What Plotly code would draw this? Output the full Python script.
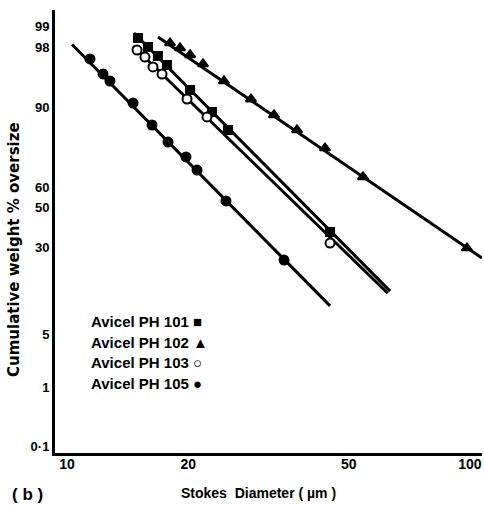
import plotly.graph_objects as go
from statistics import NormalDist

ND = NormalDist()

def probit(vals):
    return [ND.inv_cdf(v / 100.0) for v in vals]

# ---- data (Stokes diameter in um, cumulative weight % oversize) ----
ph101_x = [15.00, 15.88, 16.81, 17.70, 20.20, 22.89, 25.08, 44.95]
ph101_y = [98.54, 98.05, 97.43, 96.65, 93.45, 88.99, 83.98, 37.3]
ph101_fit_x = [14.66, 63.34]
ph101_fit_y = [98.76, 13.9]

ph102_x = [18.01, 19.07, 20.20, 21.75, 24.52, 28.61, 32.63, 37.22, 43.68, 54.27, 98.3]
ph102_y = [98.28, 97.99, 97.51, 96.75, 94.80, 91.8, 88.24, 83.98, 77.67, 65.1, 29.8]
ph102_fit_x = [16.81, 107.1]
ph102_fit_y = [98.59, 25.5]

ph103_x = [14.92, 15.61, 16.34, 17.21, 19.85, 22.25, 44.95]
ph103_y = [97.86, 97.35, 96.46, 95.69, 91.83, 87.73, 32.1]
ph103_fit_x = [14.58, 62.5]
ph103_fit_y = [98.11, 13.3]

ph105_x = [11.40, 12.28, 12.78, 14.58, 16.25, 17.81, 19.73, 21.02, 24.80, 34.56]
ph105_y = [97.2, 95.7, 94.8, 91.0, 85.5, 79.9, 74.1, 68.3, 53.1, 24.7]
ph105_fit_x = [10.29, 44.95]
ph105_fit_y = [98.2, 10.1]

x_ticks = [10, 20, 50, 100]
y_tick_vals = [99, 98, 90, 60, 50, 30, 5, 1, 0.1]
y_tick_text = ["99", "98", "90", "60", "50", "30", "5", "1", "0·1"]
legend_labels = ["Avicel PH 101 ■", "Avicel PH 102 ▲", "Avicel PH 103 ○", "Avicel PH 105 ●"]

BLACK = "black"
FONT = "Liberation Sans, Arial, sans-serif"
FONT_WIDE = "DejaVu Sans, Liberation Sans, sans-serif"

fig = go.Figure()

def add_series(fx, fy, px_, py_, symbol, fill, size):
    fig.add_trace(go.Scatter(x=fx, y=probit(fy), mode="lines",
                             line=dict(color=BLACK, width=3), showlegend=False,
                             hoverinfo="skip"))
    fig.add_trace(go.Scatter(x=px_, y=probit(py_), mode="markers",
                             marker=dict(symbol=symbol, size=size, color=fill,
                                         line=dict(color=BLACK, width=2)),
                             showlegend=False))

add_series(ph105_fit_x, ph105_fit_y, ph105_x, ph105_y, "circle", BLACK, 9)
add_series(ph102_fit_x, ph102_fit_y, ph102_x, ph102_y, "triangle-up", BLACK, 9)
add_series(ph101_fit_x, ph101_fit_y, ph101_x, ph101_y, "square", BLACK, 8)
add_series(ph103_fit_x, ph103_fit_y, ph103_x, ph103_y, "circle", "white", 9)

# plot-area geometry in page pixels
L, R, T, B = 55, 482, 10, 453
W, H = R - L, B - T
def px(xp):
    return (xp - L) / W
def py(yp):
    return (B - yp) / H

annotations = []
leg_y = [321, 342, 362, 383]
for lab, yy in zip(legend_labels, leg_y):
    annotations.append(dict(text=lab, x=px(89), y=py(yy), xref="paper", yref="paper",
                            xanchor="left", yanchor="middle", showarrow=False,
                            font=dict(family=FONT, size=15, color=BLACK, weight="bold")))

annotations.append(dict(text="Cumulative weight % oversize", x=px(14), y=py(250),
                        xref="paper", yref="paper", textangle=-90, showarrow=False,
                        xanchor="center", yanchor="middle",
                        font=dict(family=FONT_WIDE, size=15, color=BLACK, weight="bold")))
annotations.append(dict(text="Stokes  Diameter ( µm )", x=px(258), y=py(493),
                        xref="paper", yref="paper", showarrow=False,
                        xanchor="center", yanchor="middle",
                        font=dict(family=FONT, size=14, color=BLACK, weight="bold")))
annotations.append(dict(text="( b )", x=px(27), y=py(494),
                        xref="paper", yref="paper", showarrow=False,
                        xanchor="center", yanchor="middle",
                        font=dict(family=FONT, size=17, color=BLACK, weight="bold")))

fig.update_layout(
    width=484, height=505,
    margin=dict(l=L, r=484 - R, t=T, b=505 - B),
    paper_bgcolor="white", plot_bgcolor="white",
    annotations=annotations,
    showlegend=False,
)
fig.update_xaxes(type="log", range=[0.9701, 2.0299], tickvals=x_ticks,
                 ticktext=[str(v) for v in x_ticks],
                 showgrid=False, zeroline=False, showline=True, linecolor=BLACK,
                 linewidth=3, ticks="", ticklabelstandoff=-4,
                 tickfont=dict(family=FONT, size=14, color=BLACK, weight="bold"))
fig.update_yaxes(range=[-3.174, 2.542], tickvals=probit(y_tick_vals), ticktext=y_tick_text,
                 showgrid=False, zeroline=False, showline=True, linecolor=BLACK,
                 linewidth=3, ticks="", ticklabelstandoff=0,
                 tickfont=dict(family=FONT, size=13, color=BLACK, weight="bold"))

fig.write_html("out.html", config={"displayModeBar": False},
               post_script="document.body.style.margin='0';document.body.style.overflow='hidden';")
